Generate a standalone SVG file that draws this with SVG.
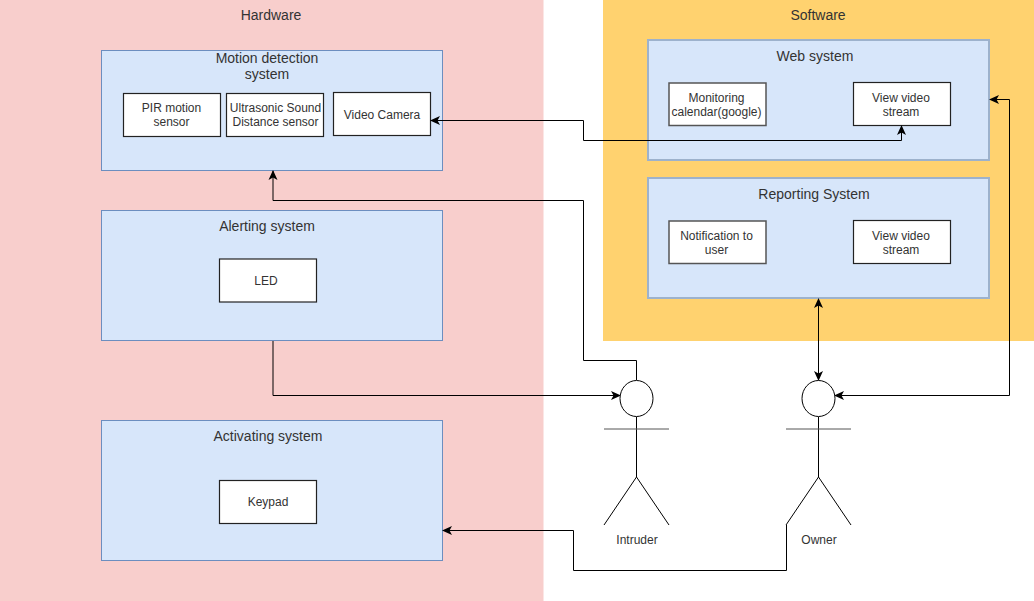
<svg xmlns="http://www.w3.org/2000/svg" width="1034" height="601" viewBox="0 0 1034 601">
<style>
text{font-family:"Liberation Sans",Arial,sans-serif;fill:#333;text-anchor:middle}
.t{font-size:14px}.s{font-size:12px}
.sys{fill:#d7e6fa;stroke:#6c8ebf;stroke-width:1}
.sys2{fill:#d7e6fa;stroke:#9db2cc;stroke-width:2}
.box{fill:#fff;stroke:#222;stroke-width:1.200}
.boxg{fill:#fff;stroke:#555;stroke-width:1.500}
.c{fill:none;stroke:#000;stroke-width:1}
.a{fill:none;stroke:#000;stroke-width:1}
</style>
<defs>
<marker id="ah" viewBox="0 0 10 10" refX="9" refY="5" markerWidth="10" markerHeight="10" markerUnits="userSpaceOnUse" orient="auto-start-reverse"><path d="M0 0.500L10 5L0 9.500L2.500 5Z" fill="#000"/></marker>
</defs>
<rect id="hardware-bg" x="0" y="0" width="543.500" height="601" fill="#f8cecc"/>
<rect id="software-bg" x="603" y="0" width="431" height="341" fill="#ffd26f"/>
<text class="t" x="271" y="20">Hardware</text>
<text class="t" x="818" y="20">Software</text>
<g id="motion"><rect class="sys" x="101.500" y="50.500" width="341" height="120"/><text class="t" x="267" y="63">Motion detection</text><text class="t" x="267" y="79">system</text></g>
<g id="pir"><rect class="box" x="123.500" y="93.500" width="97" height="43"/><text class="s" x="171.500" y="112">PIR motion</text><text class="s" x="171.500" y="126">sensor</text></g>
<g id="ultra"><rect class="box" x="226.500" y="93.500" width="97" height="43"/><text class="s" x="275.500" y="112">Ultrasonic Sound</text><text class="s" x="275.500" y="126">Distance sensor</text></g>
<g id="camera"><rect class="box" x="333.500" y="92.500" width="97" height="43"/><text class="s" x="382" y="119">Video Camera</text></g>
<g id="alerting"><rect class="sys" x="101.500" y="210.500" width="341" height="130"/><text class="t" x="267" y="231">Alerting system</text></g>
<g id="led"><rect class="box" x="219.500" y="259" width="97" height="43"/><text class="s" x="266" y="285">LED</text></g>
<g id="activating"><rect class="sys" x="101.500" y="420.500" width="341" height="140"/><text class="t" x="268" y="441">Activating system</text></g>
<g id="keypad"><rect class="box" x="219.500" y="480.500" width="97" height="43"/><text class="s" x="268" y="506">Keypad</text></g>
<g id="web"><rect class="sys2" x="648" y="40" width="341" height="120"/><text class="t" x="815" y="61">Web system</text></g>
<g id="calendar"><rect class="boxg" x="669" y="83" width="97" height="42.500"/><text class="s" x="716.500" y="102">Monitoring</text><text class="s" x="716.500" y="116">calendar(google)</text></g>
<g id="view1"><rect class="box" x="853.500" y="82.500" width="97" height="43"/><text class="s" x="901" y="102">View video</text><text class="s" x="901" y="116">stream</text></g>
<g id="reporting"><rect class="sys2" x="648" y="178" width="341" height="120"/><text class="t" x="814" y="199">Reporting System</text></g>
<g id="notify"><rect class="boxg" x="669" y="221" width="97" height="42.500"/><text class="s" x="716.500" y="240">Notification to</text><text class="s" x="716.500" y="254">user</text></g>
<g id="view2"><rect class="box" x="853.500" y="220.500" width="97" height="43"/><text class="s" x="901" y="240">View video</text><text class="s" x="901" y="254">stream</text></g>
<g id="connectors">
<path class="a" d="M431 120.500H583.500V140.500H901.500V126" marker-start="url(#ah)" marker-end="url(#ah)"/>
<path class="a" d="M636.500 380V360.500H583.500V200.500H273V171" marker-end="url(#ah)"/>
<path class="a" d="M273 341V395.500H620" marker-end="url(#ah)"/>
<path class="a" d="M818.500 299V380" marker-start="url(#ah)" marker-end="url(#ah)"/>
<path class="a" d="M990 99.500H1009.500V395.500H835" marker-start="url(#ah)" marker-end="url(#ah)"/>
<path class="a" d="M786.500 525V570.500H573.500V530.500H443" marker-end="url(#ah)"/>
</g>
<g id="intruder"><ellipse cx="636.500" cy="398.500" rx="16.500" ry="18" fill="#fff" stroke="#000"/><path class="c" d="M636.500 417V477"/><path d="M604 429H669" fill="none" stroke="#555"/><path class="c" d="M604 525L636.500 477L669 525"/><text class="s" x="637" y="544">Intruder</text></g>
<g id="owner"><ellipse cx="818.500" cy="398.500" rx="16.500" ry="18" fill="#fff" stroke="#000"/><path class="c" d="M818.500 417V477"/><path d="M786 429H851" fill="none" stroke="#555"/><path class="c" d="M786 525L818.500 477L851 525"/><text class="s" x="819" y="544">Owner</text></g>
</svg>
